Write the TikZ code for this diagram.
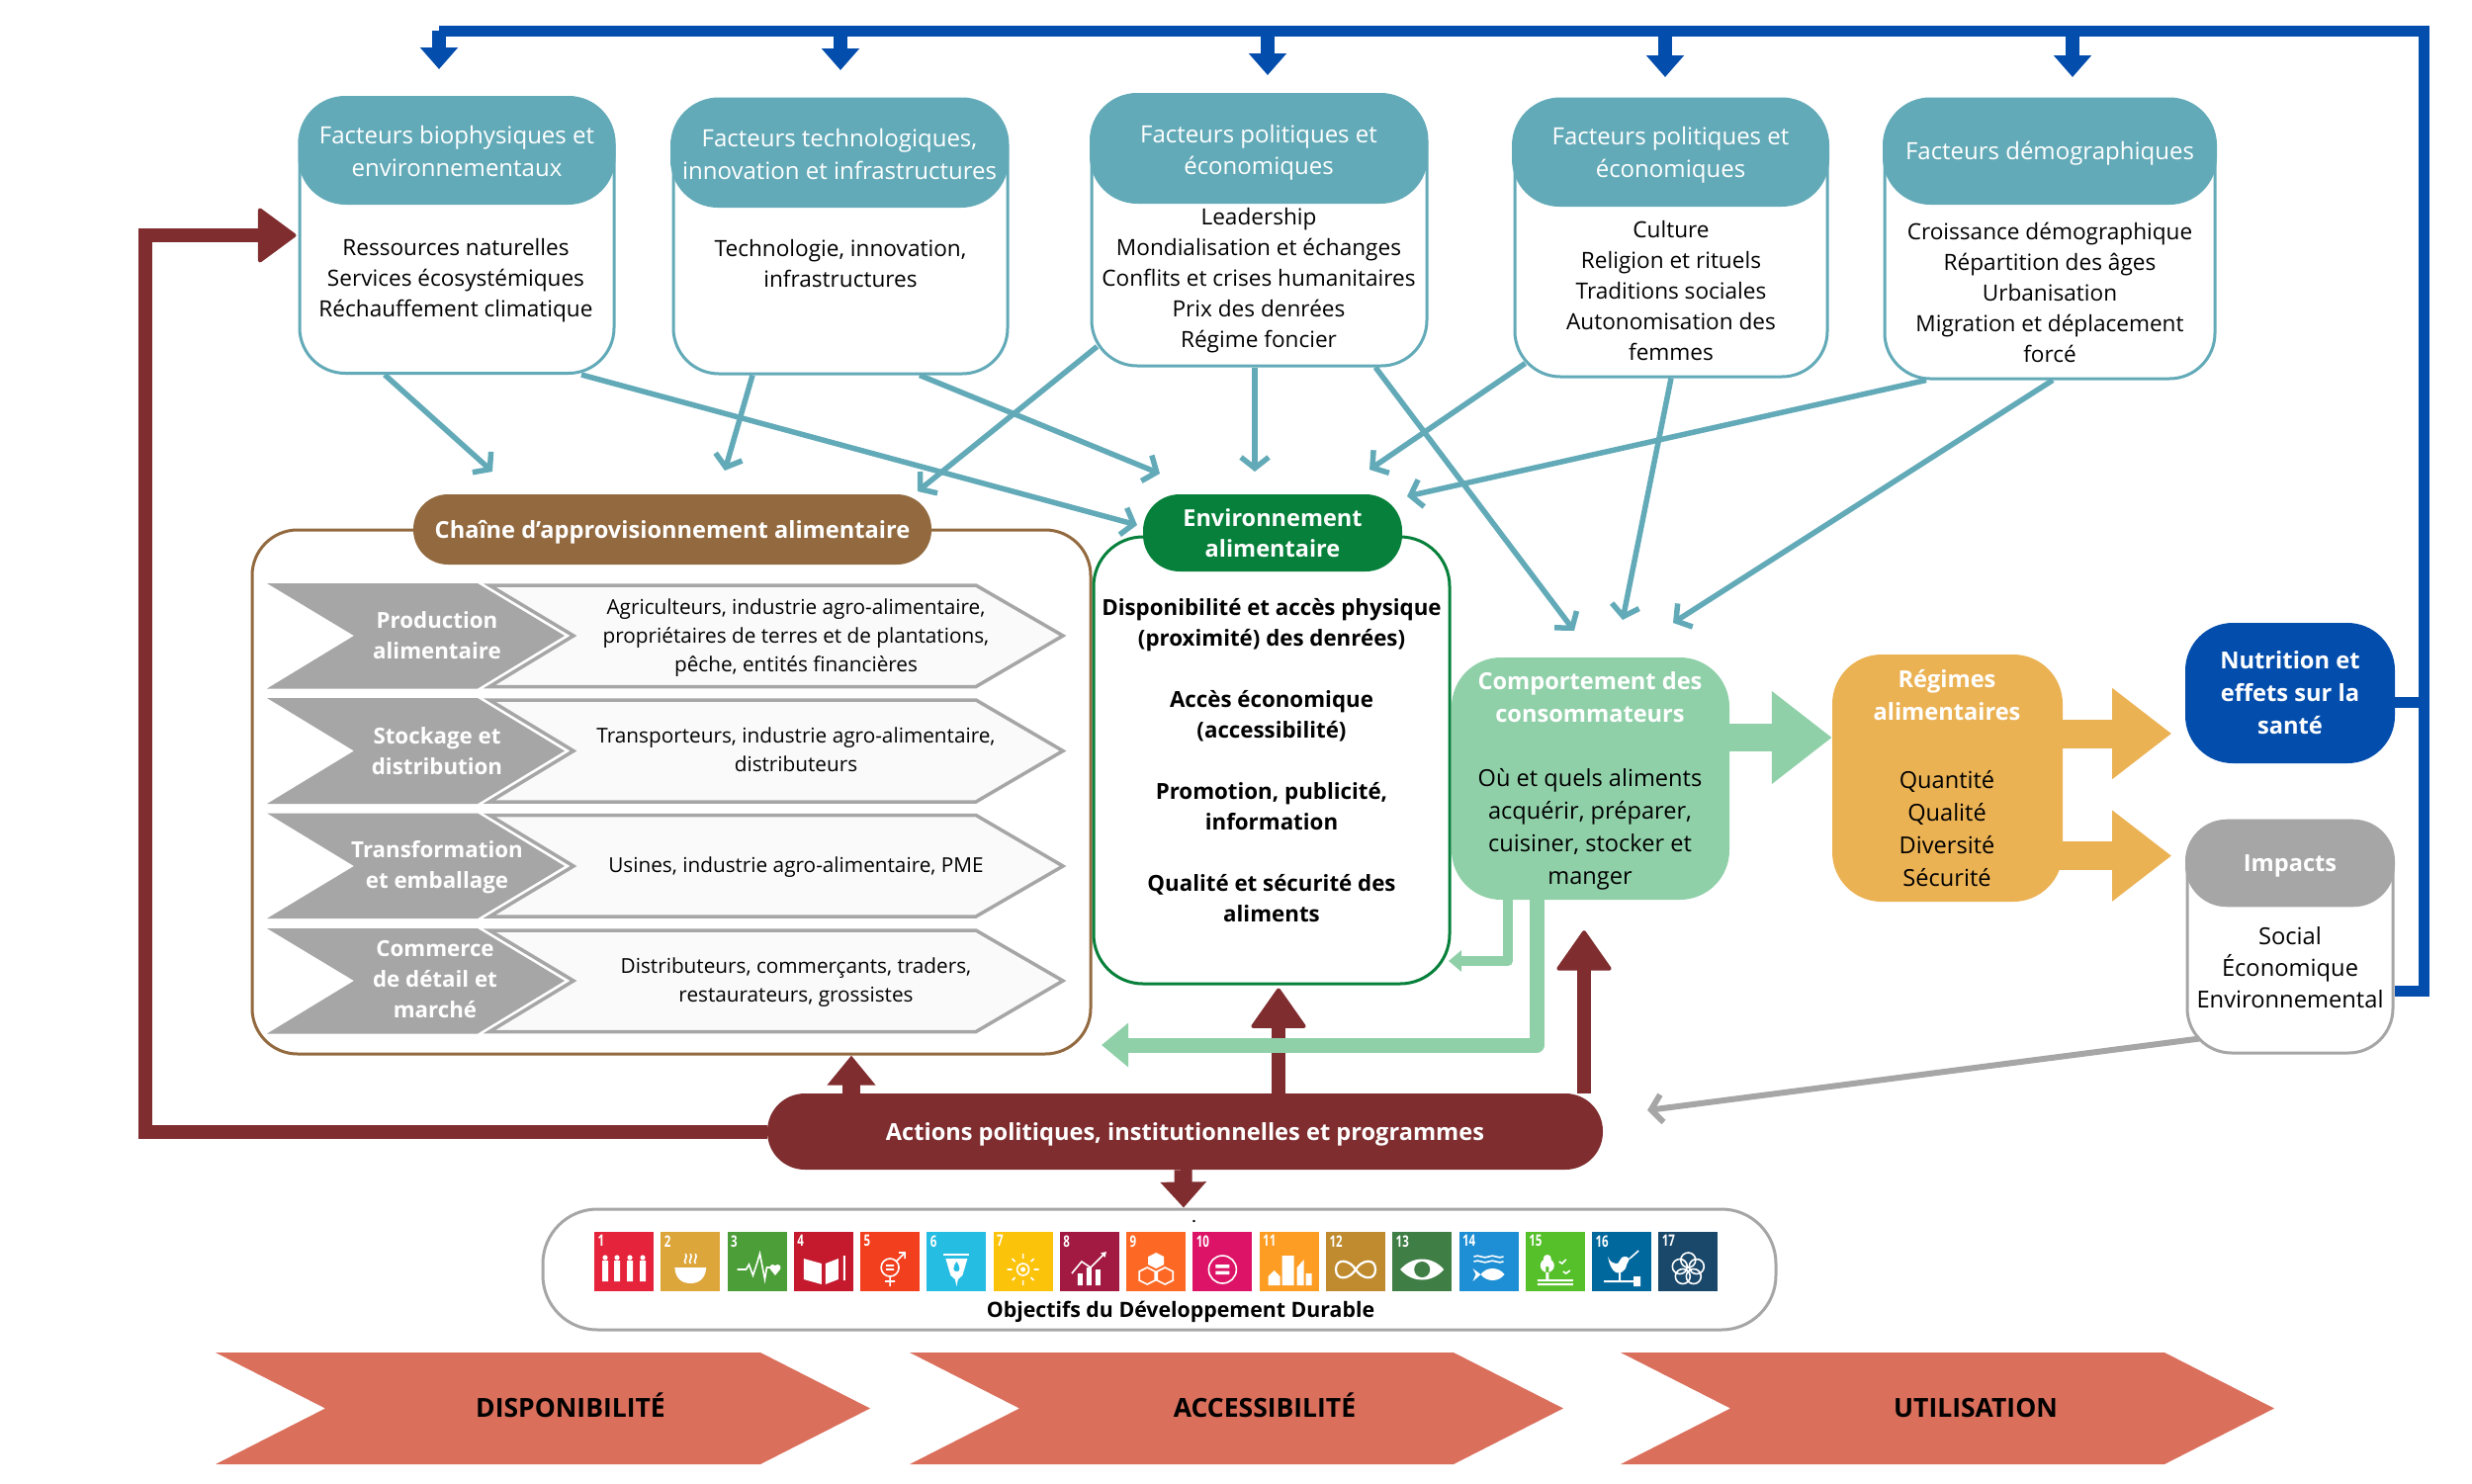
\documentclass[tikz,border=0pt]{standalone}
\usepackage{fontspec}
\setmainfont{Open Sans}
\usepackage{xcolor}
\usepackage{graphicx}
\usetikzlibrary{arrows.meta}

\definecolor{factorteal}{HTML}{63AAB8}
\definecolor{feedblue}{HTML}{034DAC}
\definecolor{policymaroon}{HTML}{7F2D2F}
\definecolor{consgreen}{HTML}{90D0A9}
\definecolor{dietorange}{HTML}{EBB254}
\definecolor{envgreen}{HTML}{06803A}
\definecolor{chainbrown}{HTML}{936A40}
\definecolor{impactgrey}{HTML}{A6A6A6}
\definecolor{bannerred}{HTML}{DA6F5C}
\definecolor{goal1}{HTML}{E5243B}
\definecolor{goal2}{HTML}{DDA63A}
\definecolor{goal3}{HTML}{4C9F38}
\definecolor{goal4}{HTML}{C5192D}
\definecolor{goal5}{HTML}{F2401F}
\definecolor{goal6}{HTML}{26BDE2}
\definecolor{goal7}{HTML}{FCC30B}
\definecolor{goal8}{HTML}{A21942}
\definecolor{goal9}{HTML}{FD6925}
\definecolor{goal10}{HTML}{DD1367}
\definecolor{goal11}{HTML}{FD9D24}
\definecolor{goal12}{HTML}{BF8B2E}
\definecolor{goal13}{HTML}{3F7E44}
\definecolor{goal14}{HTML}{1E8FD5}
\definecolor{goal15}{HTML}{56C02B}
\definecolor{goal16}{HTML}{00689D}
\definecolor{goal17}{HTML}{19486A}

\newcommand{\sdgtile}[2]{%
  \node[sdgbox, fill=goal#1] (sdg#1) at (#2, 1276) {};
  \node[sdgnum] (sdgnum#1) at (sdg#1.north west) {\scalebox{0.72}[1]{#1}};}

\begin{document}
\begin{tikzpicture}[x=1pt, y=-1pt,
  factorbody/.style={draw=factorteal, line width=3pt, fill=white, rounded corners=46pt, inner sep=0pt},
  factorhead/.style={fill=factorteal, rounded corners=48pt, inner sep=0pt},
  headtext/.style={inner sep=0pt, text=white, align=center, font=\fontsize{24}{32.5}\selectfont},
  bodytext/.style={align=center, inner sep=0pt, font=\fontsize{22.6}{31}\selectfont},
  boldtext/.style={align=center, inner sep=0pt, font=\fontsize{22.3}{31}\selectfont\bfseries},
  whitetitle/.style={align=center, inner sep=0pt, text=white, font=\fontsize{23.6}{33}\selectfont\bfseries},
  bigtext/.style={align=center, inner sep=0pt, font=\fontsize{23.6}{33}\selectfont},
  chevtitle/.style={align=center, inner sep=0pt, text=white, font=\fontsize{22.3}{31}\selectfont\bfseries},
  chevtext/.style={align=center, inner sep=0pt, font=\fontsize{20.75}{28.7}\selectfont},
  chevgrey/.style={fill=impactgrey},
  chevlight/.style={draw=impactgrey, fill=black!2, line width=3.5pt},
  factorarrow/.style={draw=factorteal, line width=5.5pt, -{Straight Barb[length=11pt, width=28pt]}},
  feedline/.style={draw=feedblue, line width=11pt},
  feeddrop/.style={draw=feedblue, line width=14pt, -{Triangle[length=22pt, width=37pt]}},
  policyarrow/.style={draw=policymaroon, line width=14pt, -{Triangle[round, length=42pt, width=58pt, line width=4pt]}},
  sdgbox/.style={minimum size=60pt, inner sep=0pt},
  sdgnum/.style={anchor=north west, inner sep=3.5pt, text=white, font=\fontsize{16}{16}\selectfont\bfseries},
  iconline/.style={draw=white, line width=1.6pt},
  iconfill/.style={fill=white},
  banner/.style={fill=bannerred},
  bannertext/.style={anchor=base, inner sep=0pt, font=\fontsize{26.5}{30}\selectfont\bfseries}]

  \useasboundingbox (0, 0) rectangle (2500, 1500);

  \coordinate (drop1) at (444, 70);
  \coordinate (drop2) at (850, 71);
  \coordinate (drop3) at (1282, 76);
  \coordinate (drop4) at (1684, 78);
  \coordinate (drop5) at (2096, 78);
  \coordinate (feedtop) at (444, 31);
  \coordinate (feedcorner) at (2451, 31);
  \coordinate (loopleft) at (147, 1144.5);
  \coordinate (chainA) at (498, 477);
  \coordinate (chainB) at (733, 476);
  \coordinate (chainC) at (928, 497);
  \coordinate (envA) at (1173, 479);
  \coordinate (envB) at (1269, 477);
  \coordinate (envC) at (1385, 475);
  \coordinate (envD) at (1423, 502);
  \coordinate (envE) at (1150, 531);
  \coordinate (consA) at (1592, 638);
  \coordinate (consB) at (1641, 627);
  \coordinate (consC) at (1692, 630);
  \coordinate (envback) at (1465, 972);
  \coordinate (chainback) at (1114, 1057);
  \coordinate (policytip) at (1666, 1123);

  \node[factorbody, minimum width=318pt, minimum height=279pt] (bio) at (462, 238) {};
  \node[factorhead, minimum width=321pt, minimum height=109pt] (biohead) at (462, 152.5) {};
  \node[headtext] (biotitle) at (462, 153) {Facteurs biophysiques et\\environnementaux};
  \node[bodytext] (biotext) at (461, 284) {Ressources naturelles\\Services écosystémiques\\Réchauffement climatique};

  \node[factorbody, minimum width=338pt, minimum height=278pt] (tech) at (850, 239) {};
  \node[factorhead, minimum width=342pt, minimum height=111pt] (techhead) at (849, 154.5) {};
  \node[headtext] (techtitle) at (849, 156) {Facteurs technologiques,\\innovation et infrastructures};
  \node[bodytext] (techtext) at (850, 267) {Technologie, innovation,\\infrastructures};

  \node[factorbody, minimum width=339pt, minimum height=274pt] (poli) at (1273.5, 233) {};
  \node[factorhead, minimum width=342pt, minimum height=112pt] (polihead) at (1273, 150) {};
  \node[headtext] (polititle) at (1273, 154.5) {Facteurs politiques et\\économiques};
  \node[bodytext] (politext) at (1273, 284) {Leadership\\Mondialisation et échanges\\Conflits et crises humanitaires\\Prix des denrées\\Régime foncier};

  \node[factorbody, minimum width=316pt, minimum height=281pt] (cult) at (1690, 240.5) {};
  \node[factorhead, minimum width=321pt, minimum height=110pt] (culthead) at (1689.5, 154) {};
  \node[headtext] (culttitle) at (1689.5, 157) {Facteurs politiques et\\économiques};
  \node[bodytext] (culttext) at (1690, 294) {Culture\\Religion et rituels\\Traditions sociales\\Autonomisation des\\femmes};

  \node[factorbody, minimum width=334pt, minimum height=283pt] (demo) at (2073, 241.5) {};
  \node[factorhead, minimum width=338pt, minimum height=108pt] (demohead) at (2073, 153) {};
  \node[headtext] (demotitle) at (2073, 155) {Facteurs démographiques};
  \node[bodytext] (demotext) at (2073, 296) {Croissance démographique\\Répartition des âges\\Urbanisation\\Migration et déplacement\\forcé};

  \node[draw=chainbrown, line width=3pt, rounded corners=46pt, minimum width=848pt, minimum height=530pt] (chain) at (679, 801) {};
  \node[fill=chainbrown, rounded corners=35pt, minimum width=524pt, minimum height=71pt] (chainhead) at (680, 535.5) {};
  \node[whitetitle] (chaintitle) at (680, 538) {Chaîne d’approvisionnement alimentaire};

  \fill[chevgrey] (270, 590) -- (483, 590) -- (571, 643) -- (483, 696.5) -- (270, 696.5) -- (358, 643) -- cycle;
  \filldraw[chevlight] (495, 592) -- (987, 592) -- (1075, 643) -- (987, 694.5) -- (495, 694.5) -- (580, 643) -- cycle;
  \node[chevtitle] (prodtitle) at (442, 643) {Production\\alimentaire};
  \node[chevtext] (prodtext) at (805, 645) {Agriculteurs, industrie agro-alimentaire,\\propriétaires de terres et de plantations,\\pêche, entités financières};

  \fill[chevgrey] (270, 706) -- (483, 706) -- (571, 759.5) -- (483, 813) -- (270, 813) -- (358, 759.5) -- cycle;
  \filldraw[chevlight] (495, 708) -- (987, 708) -- (1075, 759.5) -- (987, 811) -- (495, 811) -- (580, 759.5) -- cycle;
  \node[chevtitle] (stocktitle) at (442, 759.5) {Stockage et\\distribution};
  \node[chevtext] (stocktext) at (805, 758) {Transporteurs, industrie agro-alimentaire,\\distributeurs};

  \fill[chevgrey] (270, 822.5) -- (483, 822.5) -- (571, 876) -- (483, 929) -- (270, 929) -- (358, 876) -- cycle;
  \filldraw[chevlight] (495, 824.5) -- (987, 824.5) -- (1075, 876) -- (987, 927) -- (495, 927) -- (580, 876) -- cycle;
  \node[chevtitle] (transtitle) at (442, 877.5) {Transformation\\et emballage};
  \node[chevtext] (transtext) at (805, 877.5) {Usines, industrie agro-alimentaire, PME};

  \fill[chevgrey] (270, 939) -- (483, 939) -- (571, 992) -- (483, 1045.5) -- (270, 1045.5) -- (358, 992) -- cycle;
  \filldraw[chevlight] (495, 941) -- (987, 941) -- (1075, 992) -- (987, 1043.5) -- (495, 1043.5) -- (580, 992) -- cycle;
  \node[chevtitle] (retailtitle) at (440, 991) {Commerce\\de détail et\\marché};
  \node[chevtext] (retailtext) at (805, 993.5) {Distributeurs, commerçants, traders,\\restaurateurs, grossistes};

  \node[draw=envgreen, line width=3pt, fill=white, rounded corners=50pt, minimum width=360pt, minimum height=452pt, inner sep=0pt] (env) at (1286, 769) {};
  \node[fill=envgreen, rounded corners=37pt, minimum width=262pt, minimum height=78pt, inner sep=0pt, text=white, align=center, font=\fontsize{23.5}{31}\selectfont\bfseries] (envhead) at (1287, 539) {Environnement\\alimentaire};
  \node[boldtext] (envtext) at (1286, 769) {Disponibilité et accès physique\\(proximité) des denrées)\\[31pt]Accès économique\\(accessibilité)\\[31pt]Promotion, publicité,\\information\\[31pt]Qualité et sécurité des\\aliments};

  \node[fill=consgreen, rounded corners=50pt, minimum width=281pt, minimum height=245pt] (cons) at (1608.5, 787.5) {};
  \node[whitetitle] (constitle) at (1608, 705) {Comportement des\\consommateurs};
  \node[bigtext] (constext) at (1608, 839) {Où et quels aliments\\acquérir, préparer,\\cuisiner, stocker et\\manger};

  \node[fill=dietorange, rounded corners=50pt, minimum width=233pt, minimum height=250pt] (diet) at (1969.5, 787) {};
  \node[whitetitle] (diettitle) at (1969, 703) {Régimes\\alimentaires};
  \node[bigtext] (diettext) at (1969, 838.5) {Quantité\\Qualité\\Diversité\\Sécurité};

  \node[fill=feedblue, rounded corners=48pt, minimum width=212pt, minimum height=142pt, inner sep=0pt, text=white, align=center, font=\fontsize{23.7}{33}\selectfont\bfseries] (nutri) at (2316, 701) {Nutrition et\\effets sur la\\santé};

  \node[draw=impactgrey, line width=3pt, fill=white, rounded corners=45pt, minimum width=208pt, minimum height=235pt] (impacts) at (2316, 947.5) {};
  \node[fill=impactgrey, rounded corners=42pt, minimum width=212pt, minimum height=88.5pt] (impacthead) at (2316, 873) {};
  \node[whitetitle] (impacttitle) at (2316, 876) {Impacts};
  \node[bigtext, font=\fontsize{23.7}{32}\selectfont] (impacttext) at (2316, 979) {Social\\Économique\\Environnemental};

  \node[fill=policymaroon, rounded corners=38pt, minimum width=845pt, minimum height=77pt] (policy) at (1198.5, 1144.5) {};
  \node[whitetitle] (policytitle) at (1198.5, 1147.5) {Actions politiques, institutionnelles et programmes};

  \node[draw=impactgrey, line width=3pt, fill=white, rounded corners=55pt, minimum width=1247pt, minimum height=122pt] (odd) at (1172.5, 1284) {};
  \node[inner sep=0pt, font=\fontsize{21.3}{26}\selectfont\bfseries] (oddtext) at (1194, 1327) {Objectifs du Développement Durable};
  \node[inner sep=0pt, font=\fontsize{14}{14}\selectfont\bfseries] (odddot) at (1207.5, 1236) {.};

  \sdgtile{1}{631}
  \sdgtile{2}{698.3}
  \sdgtile{3}{765.5}
  \sdgtile{4}{832.8}
  \sdgtile{5}{900.1}
  \sdgtile{6}{967.4}
  \sdgtile{7}{1034.6}
  \sdgtile{8}{1101.9}
  \sdgtile{9}{1169.2}
  \sdgtile{10}{1236.4}
  \sdgtile{11}{1303.7}
  \sdgtile{12}{1371}
  \sdgtile{13}{1438.2}
  \sdgtile{14}{1505.5}
  \sdgtile{15}{1572.8}
  \sdgtile{16}{1640.1}
  \sdgtile{17}{1707.3}

  \fill[iconfill, shift={(sdg1.center)}] (-19, -4) circle[radius=2.6] (-7, -4) circle[radius=2.6] (6, -4) circle[radius=2.6] (19, -4) circle[radius=2.6] (-22, -1) rectangle (-16, 20) (-10, -1) rectangle (-4, 20) (3, -1) rectangle (9, 20) (16, -1) rectangle (22, 20);
  \fill[iconfill, shift={(sdg2.center)}] (-16, 6) -- (16, 6) .. controls (15, 18) and (8, 22) .. (0, 22) .. controls (-8, 22) and (-15, 18) .. (-16, 6) -- cycle;
  \draw[iconline, shift={(sdg2.center)}] (-5, 2) .. controls (-8, -1) and (-2, -4) .. (-5, -8) (0, 2) .. controls (-3, -1) and (3, -4) .. (0, -8) (5, 2) .. controls (2, -1) and (8, -4) .. (5, -8);
  \draw[iconline, shift={(sdg3.center)}] (-20, 8) -- (-11, 8) -- (-8, 3) -- (-4, 14) -- (0, 2) -- (3, -8) -- (8, 18) -- (10, 6) -- (14, 6);
  \fill[iconfill, shift={(sdg3.center)}] (16, 6) circle[radius=3] (21, 6) circle[radius=3] (13.2, 7.5) -- (23.8, 7.5) -- (18.5, 14) -- cycle;
  \fill[iconfill, shift={(sdg4.center)}] (-20, -3) -- (-2, 2) -- (-2, 23) -- (-20, 18) -- cycle (2, 2) -- (15, -3) -- (15, 18) -- (2, 23) -- cycle (20, -6) rectangle (22, 19);
  \draw[iconline, shift={(sdg5.center)}] (0, 6) circle[radius=9] (-4, 4) -- (4, 4) (-4, 8) -- (4, 8) (0, 15) -- (0, 25) (-5, 20) -- (5, 20) (6, 0) -- (15, -9) (9, -9) -- (15, -9) -- (15, -3);
  \fill[iconfill, shift={(sdg6.center)}] (-11, -3) -- (11, -3) -- (6, 14) -- (1.5, 18) -- (0, 25) -- (-1.5, 18) -- (-6, 14) -- cycle;
  \fill[goal6, shift={(sdg6.center)}] (0, 0) .. controls (4, 6) and (4, 10) .. (0, 10) .. controls (-4, 10) and (-4, 6) .. (0, 0) -- cycle;
  \draw[iconline, shift={(sdg6.center)}] (-13, -7) -- (13, -7);
  \draw[iconline, shift={(sdg7.center)}] (0, 8) circle[radius=6] (0, -8) -- (0, -3) (0, 19) -- (0, 24) (-16, 8) -- (-11, 8) (11, 8) -- (16, 8) (-11, -3) -- (-8, 0) (8, 0) -- (11, -3) (-11, 19) -- (-8, 16) (8, 16) -- (11, 19);
  \fill[iconfill, shift={(sdg7.center)}] (0, 8) circle[radius=2.5];
  \fill[iconfill, shift={(sdg8.center)}] (-12, 12) rectangle (-7, 24) (-3, 6) rectangle (2, 24) (6, 8) rectangle (11, 24);
  \draw[iconline, -{Triangle[length=5pt, width=6pt]}, shift={(sdg8.center)}] (-18, 12) -- (-8, 0) -- (1, 6) -- (17, -10);
  \fill[iconfill, shift={(sdg9.center)}] (0, -9) -- (8, -5) -- (8, 3) -- (0, 7) -- (-8, 3) -- (-8, -5) -- cycle;
  \draw[iconline, shift={(sdg9.center)}] (-9, 6) -- (-1, 10) -- (-1, 19) -- (-9, 23) -- (-17, 19) -- (-17, 10) -- cycle (9, 6) -- (17, 10) -- (17, 19) -- (9, 23) -- (1, 19) -- (1, 10) -- cycle;
  \draw[iconline, shift={(sdg10.center)}] (0, 8) circle[radius=14];
  \fill[iconfill, shift={(sdg10.center)}] (-7, 3) rectangle (7, 6.5) (-7, 9.5) rectangle (7, 13);
  \fill[iconfill, shift={(sdg11.center)}] (-21, 24) -- (-21, 15) -- (-15, 9) -- (-9, 15) -- (-9, 24) -- cycle (-7, -6) rectangle (5, 24) (8, 24) -- (8, 6) -- (15, -2) -- (15, 24) -- cycle (17, 12) rectangle (23, 24);
  \draw[iconline, shift={(sdg12.center)}, line width=2.2pt] (0, 8) .. controls (-6, -2) and (-20, -4) .. (-20, 8) .. controls (-20, 20) and (-6, 18) .. (0, 8) .. controls (6, -2) and (20, -4) .. (20, 8) .. controls (20, 20) and (6, 18) .. (0, 8);
  \fill[iconfill, shift={(sdg13.center)}] (-22, 8) .. controls (-10, -6) and (10, -6) .. (22, 8) .. controls (10, 22) and (-10, 22) .. (-22, 8) -- cycle;
  \fill[goal13, shift={(sdg13.center)}] (0, 8) circle[radius=8];
  \draw[iconline, shift={(sdg14.center)}] (-15, -5) .. controls (-10, -8) and (-5, -2) .. (0, -5) .. controls (5, -8) and (10, -2) .. (15, -5) (-15, 0) .. controls (-10, -3) and (-5, 3) .. (0, 0) .. controls (5, -3) and (10, 3) .. (15, 0);
  \fill[iconfill, shift={(sdg14.center)}] (-16, 7) -- (-8, 13) .. controls (-2, 5) and (10, 5) .. (16, 13) .. controls (10, 21) and (-2, 21) .. (-8, 13) -- (-16, 20) -- (-13, 13) -- cycle;
  \fill[iconfill, shift={(sdg15.center)}] (-8, 4) circle[radius=7] (-8, -3) circle[radius=4] (-9.5, 5) rectangle (-6.5, 18) (-18, 18) rectangle (18, 20) (-18, 22) rectangle (18, 24);
  \draw[iconline, shift={(sdg15.center)}] (4, 0) -- (7, 2) -- (11, -2) (8, 10) -- (11, 12) -- (15, 9);
  \fill[iconfill, shift={(sdg16.center)}] (-14, -5) .. controls (-12, 1) and (-8, 2) .. (-4, 2) -- (0, -4) .. controls (3, -6) and (6, -5) .. (8, -3) -- (5, 3) .. controls (4, 10) and (-2, 13) .. (-6, 11) .. controls (-10, 9) and (-13, 2) .. (-14, -5) -- cycle (-18, 19) rectangle (14, 21) (12, 15) rectangle (19, 25) (-3, 11) rectangle (-1, 20);
  \draw[iconline, shift={(sdg16.center)}] (8, -3) -- (17, -11);
  \draw[iconline, shift={(sdg17.center)}] (0, -1.5) circle[radius=7.5] (8.5, 5) circle[radius=7.5] (5.5, 15) circle[radius=7.5] (-5.5, 15) circle[radius=7.5] (-8.5, 5) circle[radius=7.5];

  \fill[banner] (218, 1368) -- (769, 1368) -- (880, 1424.5) -- (769, 1481) -- (218, 1481) -- (329, 1424.5) -- cycle;
  \fill[banner] (920, 1368) -- (1470, 1368) -- (1581, 1424.5) -- (1470, 1481) -- (920, 1481) -- (1031, 1424.5) -- cycle;
  \fill[banner] (1639, 1368) -- (2189, 1368) -- (2300, 1424.5) -- (2189, 1481) -- (1639, 1481) -- (1750, 1424.5) -- cycle;
  \node[bannertext] (availtext) at (577, 1433) {DISPONIBILITÉ};
  \node[bannertext] (accesstext) at (1279, 1433) {ACCESSIBILITÉ};
  \node[bannertext] (usetext) at (1998, 1433) {UTILISATION};

  \draw[factorarrow] ([xshift=-73pt]bio.south) -- (chainA);
  \draw[factorarrow] ([xshift=126pt]bio.south) -- (envE);
  \draw[factorarrow] ([xshift=-89pt]tech.south) -- (chainB);
  \draw[factorarrow] ([xshift=80pt]tech.south) -- (envA);
  \draw[factorarrow] ([shift={(7pt, 21pt)}]poli.south west) -- (chainC);
  \draw[factorarrow] ([xshift=-4.5pt]poli.south) -- (envB);
  \draw[factorarrow] ([xshift=117.5pt]poli.south) -- (consA);
  \draw[factorarrow] ([shift={(12pt, 15pt)}]cult.south west) -- (envC);
  \draw[factorarrow] (cult.south) -- (consB);
  \draw[factorarrow] ([xshift=-125pt]demo.south) -- (envD);
  \draw[factorarrow] ([xshift=3pt]demo.south) -- (consC);

  \draw[feedline] ([yshift=-55pt]impacts.east) -| (feedcorner) -- (feedtop);
  \draw[feedline] (nutri.east |- 0, 710) -- (feedcorner |- 0, 710);
  \draw[feeddrop] (drop1 |- feedtop) -- (drop1);
  \draw[feeddrop] (drop2 |- feedtop) -- (drop2);
  \draw[feeddrop] (drop3 |- feedtop) -- (drop3);
  \draw[feeddrop] (drop4 |- feedtop) -- (drop4);
  \draw[feeddrop] (drop5 |- feedtop) -- (drop5);

  \draw[draw=policymaroon, line width=14pt, -{Triangle[round, length=40pt, width=58pt, line width=4pt]}] (policy.west) -- (loopleft) |- ([xshift=-2pt]bio.west);
  \draw[policyarrow] ([xshift=94.5pt]policy.north) -- ([yshift=-3pt]env.south -| 1293, 0);
  \draw[policyarrow] ([xshift=403.5pt]policy.north) -- ([yshift=-31pt]cons.south -| 1602, 0);
  \draw[draw=policymaroon, line width=18pt, -{Triangle[length=30pt, width=47pt]}] ([xshift=-337.5pt]policy.north) -- (chain.south -| 861, 0);
  \draw[draw=policymaroon, line width=18pt, -{Triangle[length=26pt, width=45pt]}] ([xshift=-2pt]policy.south) -- ([xshift=24.5pt]odd.north);

  \draw[draw=consgreen, line width=10pt, line join=round, -{Triangle[length=13pt, width=21pt]}] ([xshift=-83.5pt]cons.south) |- (envback);
  \draw[draw=consgreen, line width=15pt, line join=round, -{Triangle[length=27pt, width=43pt]}] ([xshift=-54.5pt]cons.south) |- (chainback);
  \draw[draw=consgreen, line width=28pt, -{Triangle[length=61pt, width=90pt]}] ([shift={(-20pt, 41.5pt)}]cons.east) -- ([yshift=41pt]diet.west);

  \draw[draw=dietorange, line width=29pt, -{Triangle[length=60pt, width=88pt]}] ([shift={(-20pt, 45pt)}]diet.east) -- ([shift={(110pt, 45pt)}]diet.east);
  \draw[draw=dietorange, line width=29pt, -{Triangle[length=60pt, width=88pt]}] ([shift={(-40pt, -78.6pt)}]diet.east) -- ([shift={(110pt, -78.6pt)}]diet.east);

  \draw[draw=impactgrey, line width=6pt, -{Straight Barb[length=11pt, width=28pt]}] ([shift={(14pt, 16pt)}]impacts.south west) -- (policytip);
\end{tikzpicture}
\end{document}
